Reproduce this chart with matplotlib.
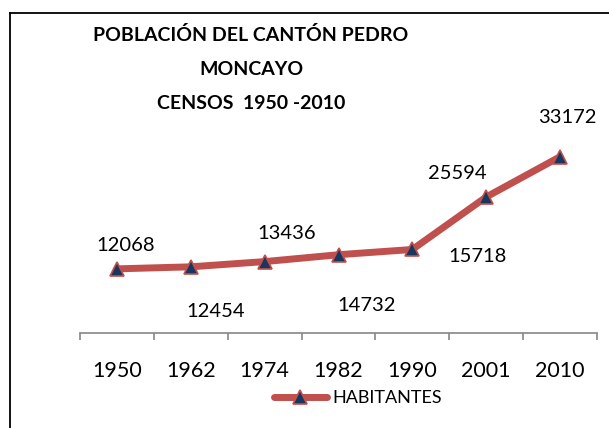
import matplotlib
matplotlib.use('Agg')
import matplotlib.pyplot as plt
from matplotlib.lines import Line2D

plt.rcParams['font.family'] = ['Lato', 'DejaVu Sans']

# datos de los censos
anios = ['1950', '1962', '1974', '1982', '1990', '2001', '2010']
habitantes = [12068, 12454, 13436, 14732, 15718, 25594, 33172]
# desplazamiento de cada etiqueta (px) respecto al punto
desplaz = [(9, 23), (25, -45), (22, 28), (28, -51), (65, -7), (-29, 23), (7, 39)]

fig = plt.figure(figsize=(6.09, 4.28), dpi=100)
ax = fig.add_axes([80 / 609, 95 / 428, 517 / 609, 186 / 428])

x = list(range(len(anios)))
ax.plot(x, habitantes, color='#C0504D', lw=5, marker='^', markersize=10,
        markerfacecolor='#17375E', markeredgecolor='#C0504D', markeredgewidth=1.2,
        solid_capstyle='round', label='HABITANTES')

for xi, v, (dx, dy) in zip(x, habitantes, desplaz):
    ax.annotate(str(v), (xi, v), xytext=(dx * 0.72, dy * 0.72), textcoords='offset points',
                ha='center', va='center', fontsize=14.5, color='black')

ax.set_xlim(-0.5, 6.5)
ax.set_ylim(0, 35000)
ax.set_yticks([])
for s in ['top', 'right', 'left']:
    ax.spines[s].set_visible(False)
ax.spines['bottom'].set_color('#868686')
ax.spines['bottom'].set_linewidth(1.2)
ax.set_xticks([i - 0.5 for i in range(len(anios) + 1)])
ax.set_xticklabels([])
ax.set_xticks(x, minor=True)
ax.set_xticklabels(anios, minor=True, fontsize=15.5)
ax.tick_params(axis='x', which='major', length=5, width=1.2, color='#868686', direction='out')
ax.tick_params(axis='x', which='minor', length=0, pad=20)

fig.text(251 / 609, 1 - 69 / 428, 'POBLACIÓN DEL CANTÓN PEDRO\nMONCAYO\nCENSOS  1950 -2010',
         ha='center', va='center', fontsize=14, fontweight='bold', linespacing=2.2)

leg = ax.legend(loc='center', bbox_to_anchor=(358 / 609, 1 - 398 / 428),
                bbox_transform=fig.transFigure, frameon=False, fontsize=13,
                handlelength=2.9, handletextpad=0.3)

# borde del gráfico
fig.add_artist(Line2D([10 / 609, 1], [1 - 13 / 428, 1 - 13 / 428], color='black', lw=1.3))
fig.add_artist(Line2D([10 / 609, 10 / 609], [0, 1 - 13 / 428], color='black', lw=1.3))

fig.savefig('out.png', dpi=100)
